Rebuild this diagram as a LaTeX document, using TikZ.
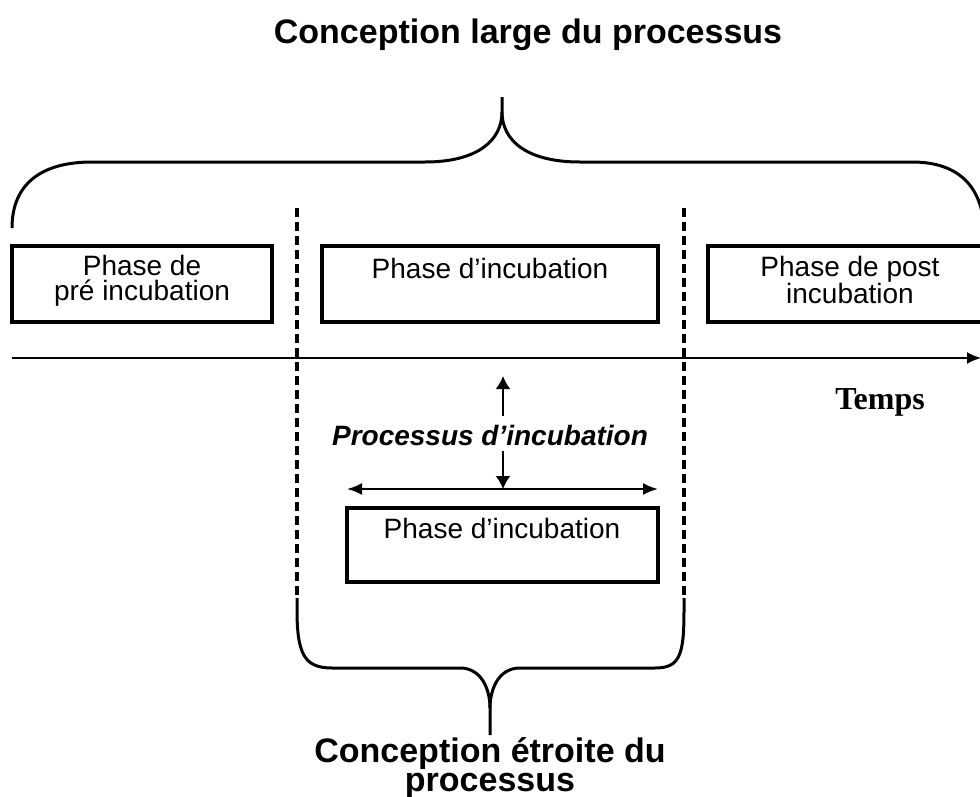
\documentclass[tikz,border=0pt]{standalone}
\usepackage{fontspec}
\setmainfont{Liberation Sans}
\newfontfamily\seriffont{Liberation Serif}
\usetikzlibrary{arrows.meta}
\begin{document}
\begin{tikzpicture}[x=1pt,y=-1pt,
  stepbox/.style={draw,line width=3.2pt,inner sep=0pt},
  txt/.style={inner sep=0pt,align=center,font=\fontsize{28}{25}\selectfont},
  ttl/.style={inner sep=0pt,align=center,font=\fontsize{34}{29}\selectfont\bfseries},
  brace/.style={line width=3pt,line join=round},
  dashline/.style={line width=3.4pt,dash pattern=on 9pt off 5pt},
  arr/.style={line width=2pt,-{Latex[length=13pt,width=15pt]}}]
\useasboundingbox (0,0) rectangle (980,796);
\fill[white] (0,0) rectangle (980,796);

% title
\node[ttl] (t1) at (528,35) {Conception large du processus};

% top brace
\draw[brace] (12,228) .. controls (12,185) and (40,162) .. (92,162) -- (425,162)
  .. controls (478,162) and (502,140) .. (502,112) -- (502,97);
\draw[brace] (502,112) .. controls (502,140) and (526,162) .. (580,162) -- (912,162)
  .. controls (962,162) and (982,190) .. (984,228);

% dashed vertical lines
\coordinate (dl1) at (297,208);
\coordinate (dl2) at (297,598);
\coordinate (dr1) at (684,208);
\coordinate (dr2) at (684,598);
\draw[dashline] (dl1) -- (dl2);
\draw[dashline] (dr1) -- (dr2);

% boxes row
\node[stepbox,minimum width=260pt,minimum height=76pt] (pre) at (142,284) {};
\node[txt] (pretxt) at (142,281) {Phase de\\pré incubation};
\node[stepbox,minimum width=336pt,minimum height=76pt] (inc) at (490,284) {};
\node[txt] (inctxt) at (490,268) {Phase d’incubation};
\node[stepbox,minimum width=290pt,minimum height=76pt] (post) at (853,284) {};
\node[txt] (posttxt) at (850,280) {Phase de post\\incubation};

% time axis
\coordinate (ax1) at (12,358);
\coordinate (ax2) at (981,358);
\draw[line width=2pt,-{Latex[length=14pt,width=12pt]}] (ax1) -- (ax2);
\node[inner sep=0pt,font=\fontsize{32}{32}\selectfont\seriffont\bfseries] (temps) at (880,402) {Temps};

% process arrows
\node[inner sep=0pt,font=\fontsize{28}{28}\selectfont\bfseries\itshape] (proc) at (490,435) {Processus d’incubation};
\coordinate (up1) at (503,416);
\coordinate (up2) at (503,376);
\draw[arr] (up1) -- (up2);
\coordinate (dn1) at (503,451);
\coordinate (dn2) at (503,489);
\draw[arr] (dn1) -- (dn2);
\coordinate (h1) at (347,489);
\coordinate (h2) at (658,489);
\draw[line width=2.2pt,{Latex[length=15pt,width=12pt]}-{Latex[length=15pt,width=12pt]}] (h1) -- (h2);

% lower box
\node[stepbox,minimum width=311pt,minimum height=74pt] (inc2) at (502.5,545) {};
\node[txt] (inc2txt) at (502,528) {Phase d’incubation};

% bottom brace
\draw[brace] (dl2) -- (297,610) .. controls (297,655) and (305,668) .. (332,668) -- (460,668)
  .. controls (482,668) and (490,690) .. (490,708) -- (490,735);
\draw[brace] (490,708) .. controls (490,690) and (498,668) .. (520,668) -- (655,668)
  .. controls (680,668) and (684,655) .. (684,610) -- (dr2);

\node[ttl] (t2) at (490,768) {Conception étroite du\\processus};
\end{tikzpicture}
\end{document}
